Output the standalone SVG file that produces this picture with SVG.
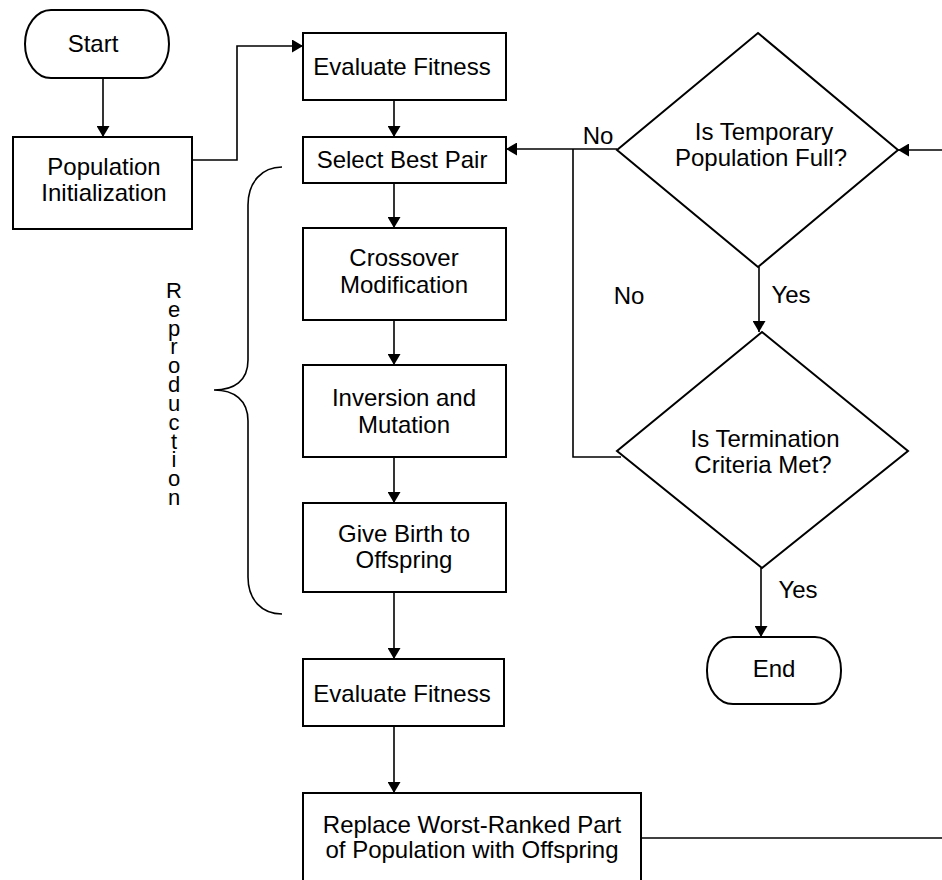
<svg xmlns="http://www.w3.org/2000/svg" width="942" height="880" viewBox="0 0 942 880">
<style>
.box{fill:#fff;stroke:#000;stroke-width:2}
.ln{fill:none;stroke:#000;stroke-width:1.6}
.t{font-family:"Liberation Sans",Arial,Helvetica,sans-serif;font-size:24px;fill:#000;text-anchor:middle}
.v{font-family:"Liberation Sans",Arial,Helvetica,sans-serif;font-size:22px;fill:#000;writing-mode:vertical-rl;text-orientation:upright}
</style>
<defs>
<marker id="arr" viewBox="0 0 11 13" refX="11" refY="6.5" markerWidth="11" markerHeight="13" markerUnits="userSpaceOnUse" orient="auto">
<path d="M0,0 L11,6.5 L0,13 z" fill="#000"/>
</marker>
</defs>
<rect width="942" height="880" fill="#fff"/>
<g id="connectors">
<line class="ln" x1="103" y1="78" x2="103" y2="137" marker-end="url(#arr)"/>
<polyline class="ln" points="192,160 237,160 237,46 303,46" marker-end="url(#arr)"/>
<line class="ln" x1="394" y1="100" x2="394" y2="137" marker-end="url(#arr)"/>
<line class="ln" x1="394" y1="183" x2="394" y2="228" marker-end="url(#arr)"/>
<line class="ln" x1="394" y1="320" x2="394" y2="365" marker-end="url(#arr)"/>
<line class="ln" x1="394" y1="457" x2="394" y2="503" marker-end="url(#arr)"/>
<line class="ln" x1="394" y1="592" x2="394" y2="659" marker-end="url(#arr)"/>
<line class="ln" x1="394" y1="726" x2="394" y2="793" marker-end="url(#arr)"/>
<line class="ln" x1="617" y1="149" x2="506" y2="149" marker-end="url(#arr)"/>
<polyline class="ln" points="621,457 573,457 573,149"/>
<line class="ln" x1="759" y1="267" x2="759" y2="332" marker-end="url(#arr)"/>
<line class="ln" x1="761" y1="568" x2="761" y2="637" marker-end="url(#arr)"/>
<line class="ln" x1="641" y1="838" x2="942" y2="838"/>
<line class="ln" x1="942" y1="150" x2="898" y2="150" marker-end="url(#arr)"/>
<text class="t" x="598" y="144">No</text>
<text class="t" x="629" y="304">No</text>
<text class="t" x="791" y="303">Yes</text>
<text class="t" x="798" y="598">Yes</text>
</g>
<g id="start">
<rect class="box" x="25" y="10" width="144" height="68" rx="26" ry="34"/>
<text class="t" x="93" y="52">Start</text>
</g>
<g id="population-init">
<rect class="box" x="13" y="137" width="179" height="92"/>
<text class="t" x="104" y="175">Population</text>
<text class="t" x="104" y="201">Initialization</text>
</g>
<g id="evaluate-fitness-1">
<rect class="box" x="303" y="33" width="203" height="67"/>
<text class="t" x="402" y="75">Evaluate Fitness</text>
</g>
<g id="select-best-pair">
<rect class="box" x="303" y="137" width="203" height="46"/>
<text class="t" x="402" y="168">Select Best Pair</text>
</g>
<g id="crossover">
<rect class="box" x="303" y="228" width="203" height="92"/>
<text class="t" x="404" y="266">Crossover</text>
<text class="t" x="404" y="293">Modification</text>
</g>
<g id="inversion">
<rect class="box" x="303" y="365" width="203" height="92"/>
<text class="t" x="404" y="406">Inversion and</text>
<text class="t" x="404" y="433">Mutation</text>
</g>
<g id="give-birth">
<rect class="box" x="303" y="503" width="203" height="89"/>
<text class="t" x="404" y="542">Give Birth to</text>
<text class="t" x="404" y="568">Offspring</text>
</g>
<g id="evaluate-fitness-2">
<rect class="box" x="303" y="659" width="201" height="67"/>
<text class="t" x="402" y="702">Evaluate Fitness</text>
</g>
<g id="replace">
<rect class="box" x="303" y="793" width="338" height="110"/>
<text class="t" x="472" y="833">Replace Worst-Ranked Part</text>
<text class="t" x="472" y="858">of Population with Offspring</text>
</g>
<g id="temp-full">
<polygon class="box" points="758,33 898,150 758,267 617,150"/>
<text class="t" x="764" y="140">Is Temporary</text>
<text class="t" x="761" y="166">Population Full?</text>
</g>
<g id="termination">
<polygon class="box" points="762,332 908,451 762,568 617,451"/>
<text class="t" x="765" y="447">Is Termination</text>
<text class="t" x="763" y="473">Criteria Met?</text>
</g>
<g id="end">
<rect class="box" x="707" y="637" width="134" height="67" rx="26" ry="33"/>
<text class="t" x="774" y="677">End</text>
</g>
<g id="reproduction">
<path class="ln" d="M282,167 C262,167 248,182 248,205 L248,360 C248,381 234,390 214,390 C234,390 248,400 248,421 L248,577 C248,600 262,614 282,614"/>
<text class="v" x="174" y="278" textLength="232" lengthAdjust="spacing">Reproduction</text>
</g>
</svg>
